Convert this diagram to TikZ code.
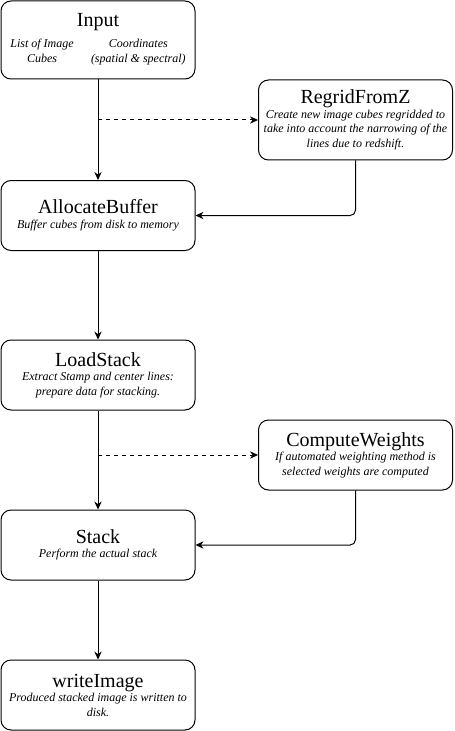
\documentclass[tikz,border=0pt]{standalone}
\usepackage{fontspec}
\setmainfont{Liberation Serif}
\usetikzlibrary{positioning, arrows.meta}

\newcommand{\stagename}[1]{{\fontsize{15}{15}\selectfont\upshape #1}}

\begin{document}
\begin{tikzpicture}[x=0.75pt, y=-0.75pt,
        block/.style={rectangle, rounded corners=7.5pt, draw=black, line width=0.75pt, minimum width=145.5pt, minimum height=52.5pt, align=center, inner sep=2pt, font=\fontsize{9}{10.9}\selectfont\itshape},
        flow/.style={-{Stealth[length=6pt, width=5.5pt]}, line width=0.75pt},
        opt/.style={flow, dashed}]
                \useasboundingbox (0,0) rectangle (454,731);

                \node[block, minimum height=58.5pt] (input) at (98,40) {\stagename{Input}\\[4pt]
                    \begin{tabular}{@{}c@{\hspace{13pt}}c@{}}List of Image & Coordinates\\ Cubes & (spatial \& spectral)\end{tabular}};
                \node[block, minimum height=60pt] (regrid) at (355.5,120) {\stagename{RegridFromZ}\\ Create new image cubes regridded to\\ take into account the narrowing of the\\ lines due to redshift.};
                \node[block] (alloc) at (98,215.5) {\stagename{AllocateBuffer}\\ Buffer cubes from disk to memory};
                \node[block] (load) at (98,375) {\stagename{LoadStack}\\ Extract Stamp and center lines:\\ prepare data for stacking.};
                \node[block] (weights) at (355.5,455) {\stagename{ComputeWeights}\\ If automated weighting method is\\ selected weights are computed};
                \node[block] (stack) at (98,545) {\stagename{Stack}\\ Perform the actual stack};
                \node[block] (write) at (98,695) {\stagename{writeImage}\\ Produced stacked image is written to\\ disk.};

                \coordinate (fork1) at (98,120);
                \coordinate (fork2) at (98,455);

                \draw[flow] (input) -- (alloc);
                \draw[opt] (fork1) -- (regrid);
                \draw[flow, rounded corners=4pt] (regrid) |- (alloc);
                \draw[flow] (alloc) -- (load);
                \draw[flow] (load) -- (stack);
                \draw[opt] (fork2) -- (weights);
                \draw[flow, rounded corners=4pt] (weights) |- (stack);
                \draw[flow] (stack) -- (write);
            \end{tikzpicture}
\end{document}
